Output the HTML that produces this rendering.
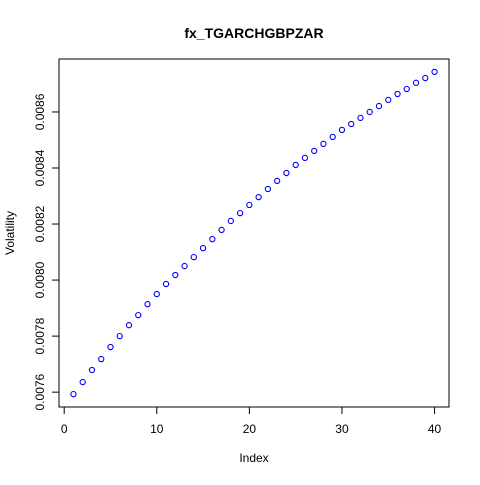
<!DOCTYPE html>
<html><head><meta charset="utf-8"><style>
body{margin:0;background:#fff}
svg text{font-family:"Liberation Sans",Arial,sans-serif;fill:#000}
</style></head><body>
<svg id="chart" width="480" height="480" xmlns="http://www.w3.org/2000/svg">
<rect width="480" height="480" fill="#fff"/>
<text x="254" y="38" text-anchor="middle" font-size="14" font-weight="bold">fx_TGARCHGBPZAR</text>
<text x="254" y="462" text-anchor="middle" font-size="12">Index</text>
<text transform="translate(14,233) rotate(-90)" text-anchor="middle" font-size="12">Volatility</text>
<rect x="59" y="59" width="390" height="348" fill="none" stroke="#000" stroke-width="1"/>
<g id="xaxis"></g>
<g id="yaxis"></g>
<g id="points"></g>
</svg>
<script>
const values = [0.007593,0.007636,0.007679,0.007718,0.007761,0.007800,0.007839,0.007875,0.007914,0.007950,
0.007986,0.008018,0.008050,0.008082,0.008114,0.008146,0.008179,0.008211,0.008239,0.008268,
0.008296,0.008325,0.008354,0.008382,0.008411,0.008436,0.008461,0.008486,0.008511,0.008536,
0.008557,0.008579,0.008600,0.008621,0.008643,0.008664,0.008682,0.008704,0.008721,0.008743];
const xTicks = [0,10,20,30,40];
const yTicks = [0.0076,0.0078,0.0080,0.0082,0.0084,0.0086];
const yTickLabels = ["0.0076","0.0078","0.0080","0.0082","0.0084","0.0086"];

const NS="http://www.w3.org/2000/svg";
const L=59,R=449,T=59,B=407;
const n=values.length;
const xmin=1-0.04*(n-1), xmax=n+0.04*(n-1);
const vmin=Math.min(...values), vmax=Math.max(...values), vr=vmax-vmin;
const ymin=vmin-0.04*vr, ymax=vmax+0.04*vr;
const sx=v=>L+(v-xmin)/(xmax-xmin)*(R-L);
const sy=v=>B-(v-ymin)/(ymax-ymin)*(B-T);
function mk(tag,attrs,parent){const e=document.createElementNS(NS,tag);for(const k in attrs)e.setAttribute(k,attrs[k]);parent.appendChild(e);return e;}
const xa=document.getElementById('xaxis');
mk('line',{x1:sx(xTicks[0]),x2:sx(xTicks[xTicks.length-1]),y1:B,y2:B,stroke:'#000'},xa);
xTicks.forEach(t=>{
  const l=mk('line',{x1:sx(t),x2:sx(t),y1:B,y2:B+7,stroke:'#000'},xa);
  
  
  const tx=mk('text',{x:sx(t),y:B+26,'text-anchor':'middle','font-size':12},xa);
  tx.textContent=t;
  
  
});
const ya=document.getElementById('yaxis');
const yVis=yTicks.filter(t=>t>=ymin&&t<=ymax);
mk('line',{x1:L,x2:L,y1:sy(yVis[0]),y2:sy(yVis[yVis.length-1]),stroke:'#000'},ya);
yTicks.forEach((t,i)=>{
  if(t<ymin||t>ymax) return;
  const l=mk('line',{x1:L-7,x2:L,y1:sy(t),y2:sy(t),stroke:'#000'},ya);
  
  
  const y=sy(t);
  const tx=mk('text',{transform:`translate(${L-15},${y}) rotate(-90)`,'text-anchor':'middle','font-size':12},ya);
  tx.textContent=yTickLabels[i];
  
  
});
const pg=document.getElementById('points');
values.forEach((v,i)=>{
  const c=mk('circle',{cx:sx(i+1),cy:sy(v),r:2.6,fill:'none',stroke:'#0000ff','stroke-width':1.1},pg);
  
  
});
</script>
</body></html>
